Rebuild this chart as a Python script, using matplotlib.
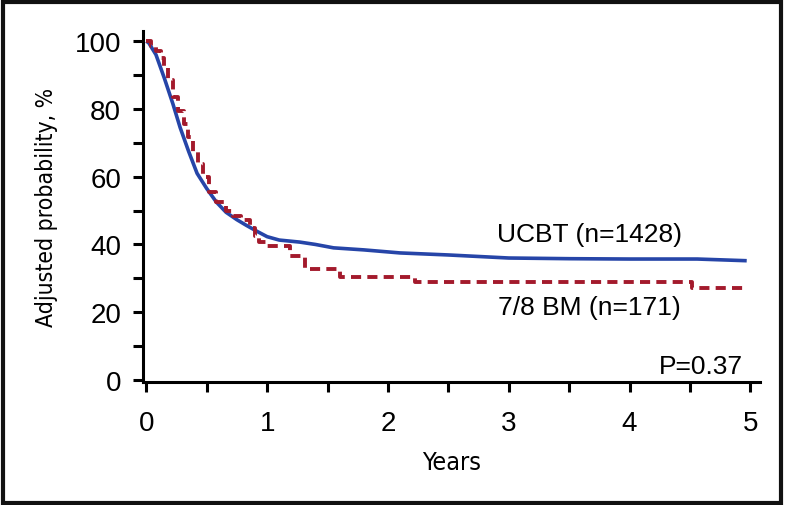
import matplotlib
matplotlib.use("Agg")
import matplotlib.pyplot as plt
from matplotlib.patches import Rectangle
from matplotlib import font_manager as fm

# ---- data ----
ucbt_t = [0, 0.02, 0.08, 0.15, 0.22, 0.28, 0.35, 0.42, 0.5, 0.58, 0.66, 0.75, 0.83,
          0.92, 1.0, 1.1, 1.27, 1.4, 1.55, 1.8, 2.1, 2.5, 3.0, 3.5, 4.0, 4.56, 4.97]
ucbt_s = [100, 99.5, 96, 89, 81.5, 74.5, 67.5, 61, 56.5, 52.5, 49.5, 47.3, 45.6,
          43.8, 42.3, 41.3, 40.7, 40.0, 39.0, 38.4, 37.5, 36.9, 36.0, 35.8, 35.7, 35.7, 35.2]

bm_t = [0, 0.04, 0.08, 0.12, 0.15, 0.18, 0.22, 0.26, 0.31, 0.345, 0.39, 0.43, 0.47, 0.52,
        0.58, 0.66, 0.72, 0.78, 0.86, 0.9, 0.93, 1.0, 1.19, 1.31, 1.6, 2.22, 4.52, 4.97]
bm_s = [100, 98.5, 97, 95, 92.3, 88.4, 83.5, 79.5, 75.6, 71.6, 67.2, 63.8, 59.8, 55.5,
        52.5, 50, 48.5, 47.3, 45, 42.6, 40.6, 39.6, 36.7, 32.8, 30.3, 28.8, 27.2, 27.2]

x_ticks = [0, 1, 2, 3, 4, 5]
y_ticks = [0, 20, 40, 60, 80, 100]
ucbt_label = "UCBT (n=1428)"
bm_label = "7/8 BM (n=171)"
p_text = "P=0.37"

plt.rcParams['font.family'] = ['Liberation Sans', 'DejaVu Sans']

# pick a condensed face for the axis titles if one is installed
_fonts = fm.fontManager.ttflist
_names = {f.name for f in _fonts}
if 'Liberation Sans Narrow' in _names:
    cond = dict(family='Liberation Sans Narrow')
    xl_size, yl_size = 19, 18
elif any(f.name == 'DejaVu Sans' and str(f.stretch) in ('condensed', '75', '87') for f in _fonts):
    cond = dict(family='DejaVu Sans', stretch='condensed')
    xl_size, yl_size = 18, 16.5
else:
    cond = dict(family='Liberation Sans')
    xl_size, yl_size = 17, 16.5

W, H = 787, 506
fig = plt.figure(figsize=(W / 100, H / 100), dpi=100)
ax = fig.add_axes([142.7 / W, 1 - 383 / H, (760 - 142.7) / W, (383 - 31.7) / H])

blue = '#2645a8'
red = '#a31a2c'
ax.plot(ucbt_t, ucbt_s, color=blue, lw=2.6, solid_capstyle='butt', zorder=2)
ax.plot(bm_t, bm_s, color=red, lw=2.8, drawstyle='steps-post',
        linestyle=(0, (2.6, 1.6)), zorder=3)

ax.set_xlim(-0.03, 5.08)
ax.set_ylim(-0.6, 103.1)
ax.set_xticks(x_ticks)
ax.set_xticks([0.5, 1.5, 2.5, 3.5, 4.5], minor=True)
ax.set_yticks(y_ticks)
ax.set_yticks([10, 30, 50, 70, 90], minor=True)
ax.set_xticklabels([str(v) for v in x_ticks])
ax.set_yticklabels([str(v) for v in y_ticks])

for s in ['top', 'right']:
    ax.spines[s].set_visible(False)
for s in ['left', 'bottom']:
    ax.spines[s].set_linewidth(2.2)

ax.tick_params(which='both', direction='out', length=7.5, width=2.2, labelsize=20, color='black')
ax.tick_params(axis='x', which='major', pad=13)
ax.tick_params(axis='y', which='major', pad=8)

ax.set_xlabel('Years', fontsize=xl_size, labelpad=10, **cond)
ax.set_ylabel('Adjusted probability, %', fontsize=yl_size, labelpad=12, **cond)

ax.text(3.67, 43.1, ucbt_label, fontsize=19, ha='center', va='center')
ax.text(3.67, 21.6, bm_label, fontsize=19, ha='center', va='center')
ax.text(4.94, 4.1, p_text, fontsize=19, ha='right', va='center')

# outer frame
fig.patches.append(Rectangle((2.5 / W, 2.5 / H), (781 - 2.5) / W, (503.5 - 2.5) / H,
                             transform=fig.transFigure, fill=False, lw=3.0,
                             edgecolor='#111111'))

fig.savefig('out.png', dpi=100)
